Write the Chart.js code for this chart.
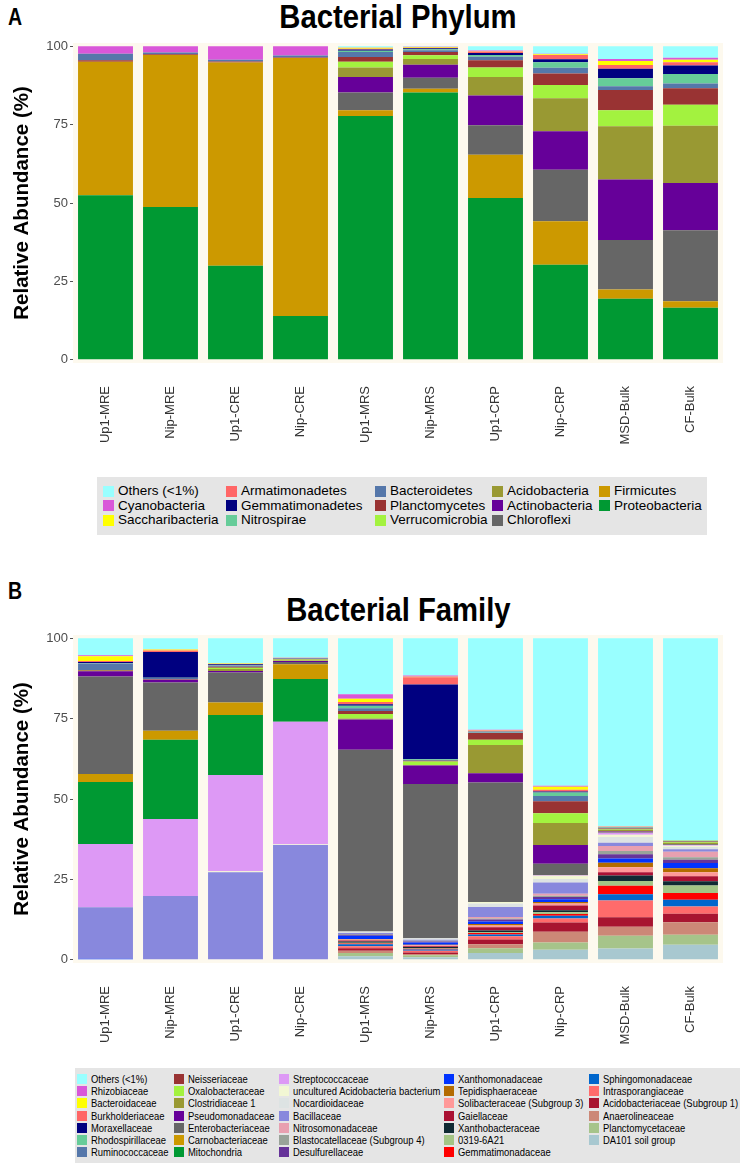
<!DOCTYPE html>
<html lang="en">
<head>
<meta charset="UTF-8">
<title>Bacterial Phylum / Family</title>
<script src="https://cdn.jsdelivr.net/npm/chart.js"></script>
<style>
  body { margin: 0; background: #fff; font-family: "Liberation Sans", Arial, sans-serif; }
  #page { position: relative; width: 742px; height: 1167px; overflow: hidden; }
  .tag { position: absolute; left: 8px; font-weight: bold; font-size: 23px; transform: scaleX(0.85); transform-origin: left; }
  .title { position: absolute; left: 73px; width: 650px; text-align: center; font-weight: bold; font-size: 34px; }
  .title span { display: inline-block; transform: scaleX(0.86); }
  canvas { position: absolute; left: 0; }
  .legend { position: absolute; background: #e5e5e5; }
  .legend .item { position: absolute; white-space: nowrap; }
  .legend .sw { position: absolute; left: 0; }
</style>
</head>
<body>
<div id="page">
  <div class="tag" style="top:4px">A</div>
  <div class="title" style="top:-3px"><span>Bacterial Phylum</span></div>
  <canvas id="phylum" width="742" height="430" style="top:30px"></canvas>
  <div id="legend-phylum" class="legend" style="left:97px; top:477px; width:610px; height:58px"></div>

  <div class="tag" style="top:578px">B</div>
  <div class="title" style="top:590px"><span>Bacterial Family</span></div>
  <canvas id="family" width="742" height="430" style="top:620px"></canvas>
  <div id="legend-family" class="legend" style="left:75px; top:1068px; width:665px; height:95px"></div>
</div>

<script>
// samples and axis
const samples = ['Up1-MRE', 'Nip-MRE', 'Up1-CRE', 'Nip-CRE', 'Up1-MRS', 'Nip-MRS', 'Up1-CRP', 'Nip-CRP', 'MSD-Bulk', 'CF-Bulk'];
const yTicks = [0, 25, 50, 75, 100];

// phylum level (legend order = top of the stack first)
const phylumNames = ['Others (<1%)', 'Cyanobacteria', 'Saccharibacteria', 'Armatimonadetes', 'Gemmatimonadetes',
  'Nitrospirae', 'Bacteroidetes', 'Planctomycetes', 'Verrucomicrobia', 'Acidobacteria', 'Actinobacteria',
  'Chloroflexi', 'Firmicutes', 'Proteobacteria'];
const phylumColors = ['#99ffff', '#d957d9', '#ffff00', '#ff6666', '#000080', '#66cc99', '#5577aa', '#993333',
  '#a3f23f', '#999933', '#660099', '#666666', '#cc9900', '#009933'];
const phylumValues = [
  [0, 0, 0, 0, 0.4, 0.2, 1.4, 2.4, 4.1, 3.7],
  [2.4, 2.0, 4.3, 3.0, 0.1, 0.1, 0.2, 0.2, 0.6, 0.6],
  [0, 0, 0, 0, 0.3, 0.2, 0.1, 0.2, 1.3, 0.8],
  [0, 0, 0, 0, 0.3, 0.2, 0.5, 1.4, 1.2, 1.1],
  [0, 0, 0, 0, 0.4, 0.3, 0.6, 0.9, 3.0, 2.7],
  [0, 0, 0, 0, 0.4, 0.3, 0.6, 1.8, 2.6, 3.0],
  [2.1, 0.6, 0.6, 0.6, 1.6, 0.6, 1.1, 1.8, 1.2, 1.5],
  [0.5, 0.2, 0.3, 0.2, 1.5, 1.0, 2.3, 3.7, 6.4, 5.3],
  [0, 0, 0, 0, 1.8, 1.2, 3.0, 4.2, 5.1, 6.7],
  [0, 0, 0, 0, 3.0, 1.8, 5.9, 10.5, 17.0, 18.2],
  [0, 0, 0, 0, 5.0, 4.2, 9.5, 12.3, 19.3, 15.1],
  [0, 0, 0, 0, 5.6, 3.5, 9.4, 16.4, 15.8, 22.6],
  [42.5, 48.5, 64.8, 82.2, 1.9, 1.2, 13.8, 13.9, 2.9, 2.1],
  [52.5, 48.7, 30.0, 14.0, 77.7, 85.2, 51.6, 30.3, 19.5, 16.6]
];

// family level
const familyNames = ['Others (<1%)', 'Rhizobiaceae', 'Bacteroidaceae', 'Burkholderiaceae', 'Moraxellaceae',
  'Rhodospirillaceae', 'Ruminococcaceae', 'Neisseriaceae', 'Oxalobacteraceae', 'Clostridiaceae 1',
  'Pseudomonadaceae', 'Enterobacteriaceae', 'Carnobacteriaceae', 'Mitochondria', 'Streptococcaceae',
  'uncultured Acidobacteria bacterium', 'Nocardioidaceae', 'Bacillaceae', 'Nitrosomonadaceae',
  'Blastocatellaceae (Subgroup 4)', 'Desulfurellaceae', 'Xanthomonadaceae', 'Tepidisphaeraceae',
  'Solibacteraceae (Subgroup 3)', 'Gaiellaceae', 'Xanthobacteraceae', '0319-6A21', 'Gemmatimonadaceae',
  'Sphingomonadaceae', 'Intrasporangiaceae', 'Acidobacteriaceae (Subgroup 1)', 'Anaerolineaceae',
  'Planctomycetaceae', 'DA101 soil group'];
const familyColors = ['#99ffff', '#d957d9', '#ffff00', '#ff6666', '#000080', '#66cc99', '#5577aa', '#993333',
  '#a3f23f', '#999933', '#660099', '#666666', '#cc9900', '#009933', '#dd99f5', '#f2f7d4', '#dde3e3',
  '#8888dd', '#e8a0b0', '#99a399', '#663399', '#0033ff', '#b36b00', '#ff9999', '#aa1133', '#0f2a33',
  '#a3c585', '#ff0000', '#0066cc', '#ff6b6b', '#a81530', '#cc8877', '#a6c48a', '#a8c8d0'];
const familyValues = [
  [5.3, 3.4, 7.8, 6.1, 17.4, 11.6, 28.5, 45.9, 58.5, 62.8],
  [0.3, 0.1, 0.1, 0, 1.4, 0.4, 0.1, 0.3, 0.1, 0],
  [1.5, 0.3, 0.1, 0, 1.0, 0.1, 0.1, 0.9, 0.1, 0.1],
  [0.3, 0.5, 0.1, 0.1, 0.7, 2.3, 0.3, 0.6, 0.1, 0],
  [0.3, 8.0, 0.2, 0.1, 0.5, 23.2, 0.1, 0.3, 0.1, 0],
  [0.2, 0.1, 0.2, 0, 0.8, 0.3, 0.2, 1.1, 0.2, 0.2],
  [2.0, 0.3, 0.4, 0.2, 0.8, 0.2, 0.2, 1.6, 0.1, 0.1],
  [0.2, 0.1, 0.3, 0.1, 1.0, 0.2, 2.1, 3.7, 0.2, 0.2],
  [0.1, 0, 0.4, 0.3, 1.4, 1.1, 1.6, 3.1, 0.2, 0.2],
  [0.1, 0.1, 0.6, 0.2, 0.3, 0.2, 8.8, 6.8, 0.5, 0.4],
  [1.6, 0.9, 0.5, 0.3, 9.4, 5.7, 2.9, 5.8, 0.2, 0.1],
  [30.3, 15.0, 9.3, 0.7, 56.5, 48.0, 37.1, 3.6, 0.2, 0.2],
  [2.5, 2.8, 3.9, 4.6, 0, 0, 0, 0, 0, 0],
  [19.3, 24.6, 18.6, 13.3, 0, 0, 0, 0, 0, 0],
  [19.7, 24.0, 30.0, 38.1, 0, 0, 0, 0.2, 0.6, 0.2],
  [0, 0, 0.2, 0.1, 0, 0, 0.5, 1.0, 0.7, 0.4],
  [0, 0, 0.1, 0.1, 0.5, 0.5, 1.1, 1.1, 1.8, 0.7],
  [16.0, 19.8, 27.2, 35.7, 0.3, 0.3, 3.1, 3.5, 1.0, 0.8],
  [0, 0, 0, 0, 0, 0, 0.5, 0.6, 1.6, 1.7],
  [0, 0, 0, 0, 0.2, 0.2, 0.3, 0.4, 1.0, 0.8],
  [0, 0, 0, 0, 0.3, 0.3, 0.6, 0.7, 1.3, 1.0],
  [0.3, 0, 0, 0, 1.0, 0.7, 0.8, 0.8, 1.3, 1.6],
  [0, 0, 0, 0, 0.2, 0.2, 0.4, 0.5, 1.4, 1.3],
  [0, 0, 0, 0, 0.3, 0.3, 0.6, 0.6, 1.6, 1.2],
  [0, 0, 0, 0, 0.3, 0.2, 1.0, 1.5, 1.0, 1.6],
  [0, 0, 0, 0, 0.4, 0.4, 0.5, 0.6, 1.7, 1.3],
  [0, 0, 0, 0, 0.2, 0.2, 0.3, 0.6, 1.5, 2.3],
  [0, 0, 0, 0, 0.3, 0.2, 0.4, 0.5, 2.6, 2.1],
  [0, 0, 0, 0, 0.6, 0.4, 0.6, 0.9, 2.0, 2.1],
  [0, 0, 0, 0, 0.6, 0.5, 1.0, 1.2, 5.2, 2.3],
  [0, 0, 0, 0, 0.8, 0.5, 1.5, 2.9, 2.9, 2.6],
  [0, 0, 0, 0, 0.7, 0.4, 1.2, 3.3, 2.8, 3.9],
  [0, 0, 0, 0, 1.0, 0.6, 1.5, 2.3, 4.0, 3.1],
  [0, 0, 0, 0, 1.1, 0.8, 2.1, 3.1, 3.5, 4.7]
];

// cream panel behind the bars
const panelBg = {
  id: 'panelBg',
  beforeDatasetsDraw(chart) {
    const a = chart.chartArea;
    const ctx = chart.ctx;
    ctx.save();
    ctx.fillStyle = '#fdf9ee';
    ctx.fillRect(a.left, a.top, a.right - a.left, a.bottom - a.top);
    ctx.restore();
  }
};

function makeChart(id, names, colors, values, padTop, xHeight) {
  // chart.js stacks the first dataset at the bottom, so reverse the legend order
  const datasets = [];
  for (let i = names.length - 1; i >= 0; i--) {
    datasets.push({
      label: names[i],
      data: values[i],
      backgroundColor: colors[i],
      borderWidth: 0,
      barPercentage: 0.845,
      categoryPercentage: 1
    });
  }
  return new Chart(document.getElementById(id), {
    type: 'bar',
    data: { labels: samples, datasets: datasets },
    plugins: [panelBg],
    options: {
      responsive: false,
      animation: false,
      devicePixelRatio: 1,
      layout: { padding: { top: padTop, right: 19, left: 0, bottom: 0 } },
      plugins: { legend: { display: false }, tooltip: { enabled: false } },
      scales: {
        x: {
          stacked: true,
          grid: { display: false, drawTicks: false },
          border: { display: false },
          ticks: {
            autoSkip: false, minRotation: 90, maxRotation: 90, padding: 23,
            color: '#333', font: { family: 'Liberation Sans, Arial', size: 13 }
          },
          afterFit(scale) { scale.height = xHeight; }
        },
        y: {
          stacked: true,
          min: -1, max: 101,
          afterBuildTicks(scale) { scale.ticks = yTicks.map(v => ({ value: v })); },
          grid: { drawOnChartArea: false, tickLength: 3, color: '#555' },
          border: { display: false },
          ticks: {
            padding: 2, color: '#4d4d4d',
            font: { family: 'Liberation Sans, Arial', size: 13 }
          },
          title: {
            display: true, text: 'Relative Abundance (%)', color: '#000',
            padding: { top: 10, bottom: 0 },
            font: { family: 'Liberation Sans, Arial', size: 20.5, weight: 'bold' }
          },
          afterFit(scale) { scale.width = 73; }
        }
      }
    }
  });
}

function makeLegend(id, names, colors, rows, colX, textX, rowTop, rowStep, fontSize, sw, squeeze) {
  const box = document.getElementById(id);
  names.forEach((name, i) => {
    const c = Math.floor(i / rows), r = i % rows;
    const item = document.createElement('div');
    item.className = 'item';
    item.style.left = colX[c] + 'px';
    item.style.top = (rowTop + r * rowStep) + 'px';
    item.style.height = rowStep + 'px';
    const s = document.createElement('div');
    s.className = 'sw';
    s.style.width = sw + 'px';
    s.style.height = sw + 'px';
    s.style.top = ((rowStep - sw) / 2) + 'px';
    s.style.background = colors[i];
    const t = document.createElement('span');
    t.textContent = name;
    t.style.position = 'absolute';
    t.style.left = textX + 'px';
    t.style.top = '0px';
    t.style.fontSize = fontSize + 'px';
    t.style.lineHeight = rowStep + 'px';
    t.style.transform = 'scaleX(' + squeeze + ')';
    t.style.transformOrigin = 'left';
    item.appendChild(s);
    item.appendChild(t);
    box.appendChild(item);
  });
}

makeChart('phylum', phylumNames, phylumColors, phylumValues, 13, 97);
makeChart('family', familyNames, familyColors, familyValues, 15, 87);

makeLegend('legend-phylum', phylumNames, phylumColors, 3, [6, 129, 278, 395, 502], 15, 7, 14.5, 13.5, 11, 1);
makeLegend('legend-family', familyNames, familyColors, 7, [2, 99, 204, 369, 514], 14, 5, 12.2, 11.5, 10, 0.82);
</script>
</body>
</html>
